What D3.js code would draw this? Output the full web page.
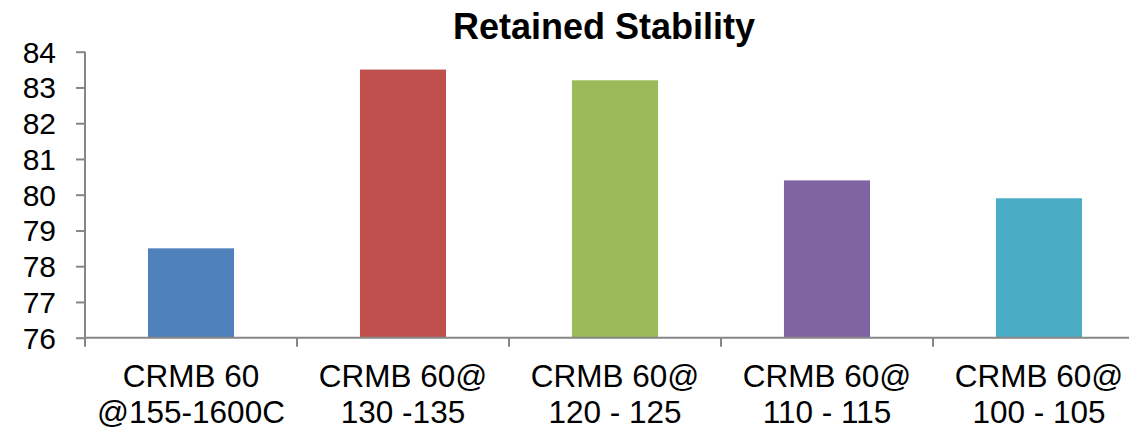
<!DOCTYPE html>
<html>
<head>
<meta charset="utf-8">
<script src="https://cdn.jsdelivr.net/npm/d3@7"></script>
<style>
  html, body { margin: 0; padding: 0; background: #fff; overflow: hidden; }
  svg { display: block; font-family: "Liberation Sans", Arial, sans-serif; }
</style>
</head>
<body>
<svg id="chart" width="1129" height="438"></svg>
<script>
const title = "Retained Stability";
const categoriesLine1 = ["CRMB 60", "CRMB 60@", "CRMB 60@", "CRMB 60@", "CRMB 60@"];
const categoriesLine2 = ["@155-1600C", "130 -135", "120 - 125", "110 - 115", "100 - 105"];
const values = [78.5, 83.5, 83.2, 80.4, 79.9];
const colors = ["#4F81BD", "#C0504D", "#9BBB59", "#8064A2", "#4BACC6"];
const yTicks = [76, 77, 78, 79, 80, 81, 82, 83, 84];

const svg = d3.select("#chart");
const plotLeft = 85, plotRight = 1145, plotTop = 51.7, plotBottom = 337.7;
const axisColor = "#868686";

const idx = d3.range(values.length);
const x = d3.scaleBand().domain(idx).range([plotLeft, plotRight]).padding(0);
const y = d3.scaleLinear().domain([76, 84]).range([plotBottom, plotTop]);
const barW = x.bandwidth() * 0.406;

// bars
svg.append("g").selectAll("rect").data(idx).join("rect")
  .attr("x", i => x(i) + x.bandwidth() / 2 - barW / 2)
  .attr("y", i => y(values[i]))
  .attr("width", barW)
  .attr("height", i => y(76) - y(values[i]))
  .attr("fill", i => colors[i]);

// y axis
const yAxis = svg.append("g").attr("transform", `translate(${plotLeft},0)`)
  .call(d3.axisLeft(y).tickValues(yTicks).tickSize(9).tickPadding(20).tickFormat(d3.format("d")));
yAxis.select(".domain").attr("stroke", axisColor).attr("stroke-width", 2).attr("d", `M0,${plotTop}V${plotBottom}`);
yAxis.selectAll(".tick line").attr("stroke", axisColor).attr("stroke-width", 2);
yAxis.selectAll(".tick text").attr("font-size", 30).attr("fill", "#000")
  .attr("font-family", "'Liberation Sans', Arial, sans-serif").attr("dy", "0.35em").attr("x", -29);

// x axis
const xAxis = svg.append("g").attr("transform", `translate(0,${plotBottom})`);
xAxis.append("line").attr("x1", plotLeft).attr("x2", plotRight).attr("y1", 0).attr("y2", 0)
  .attr("stroke", axisColor).attr("stroke-width", 2);
const boundaries = idx.map(i => x(i)).concat([plotRight]);
xAxis.selectAll("line.tk").data(boundaries).join("line").attr("class", "tk")
  .attr("x1", d => d).attr("x2", d => d).attr("y1", 0).attr("y2", 9)
  .attr("stroke", axisColor).attr("stroke-width", 2);

const labels = svg.append("g").attr("font-size", 31.5).attr("fill", "#000").attr("text-anchor", "middle");
labels.selectAll("text.l1").data(idx).join("text").attr("class", "l1")
  .attr("x", i => x(i) + x.bandwidth() / 2).attr("y", 387).text(i => categoriesLine1[i]);
labels.selectAll("text.l2").data(idx).join("text").attr("class", "l2")
  .attr("x", i => x(i) + x.bandwidth() / 2).attr("y", 423).text(i => categoriesLine2[i]);

// title
svg.append("text").attr("x", 604).attr("y", 39).attr("text-anchor", "middle")
  .attr("font-size", 36).attr("font-weight", "bold").attr("fill", "#000").text(title);
</script>
</body>
</html>
